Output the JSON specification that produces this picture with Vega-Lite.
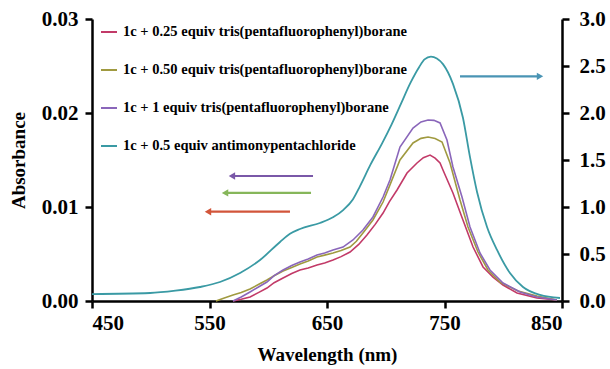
{
  "$schema": "https://vega.github.io/schema/vega-lite/v6.json",
  "width": 470,
  "height": 282,
  "autosize": {"type": "none"},
  "padding": {"left": 92, "top": 19, "right": 48, "bottom": 68},
  "background": "white",
  "config": {
    "view": {"stroke": null},
    "font": "Liberation Serif",
    "axis": {
      "grid": false,
      "domainColor": "black",
      "domainWidth": 2.5,
      "tickColor": "black",
      "tickWidth": 2.5,
      "tickSize": 7,
      "labelFont": "Liberation Serif",
      "labelFontWeight": "bold",
      "labelFontSize": 21,
      "labelColor": "black",
      "titleFont": "Liberation Serif",
      "titleFontWeight": "bold",
      "titleFontSize": 19,
      "titleColor": "black"
    },
    "legend": {
      "orient": "none",
      "legendX": 8,
      "legendY": 4,
      "padding": 0,
      "symbolType": "stroke",
      "symbolSize": 256,
      "symbolStrokeWidth": 2,
      "labelFont": "Liberation Serif",
      "labelFontWeight": "bold",
      "labelFontSize": 14.5,
      "labelColor": "black",
      "labelLimit": 0,
      "labelOffset": 5,
      "rowPadding": 22
    }
  },
  "datasets": {
    "borane": [
      {"s": "1c + 0.25 equiv tris(pentafluorophenyl)borane", "wl": 570.0, "abs": 0.0},
      {"s": "1c + 0.25 equiv tris(pentafluorophenyl)borane", "wl": 577.0, "abs": 0.00018},
      {"s": "1c + 0.25 equiv tris(pentafluorophenyl)borane", "wl": 584.5, "abs": 0.00043},
      {"s": "1c + 0.25 equiv tris(pentafluorophenyl)borane", "wl": 592.0, "abs": 0.00092},
      {"s": "1c + 0.25 equiv tris(pentafluorophenyl)borane", "wl": 598.9, "abs": 0.00138},
      {"s": "1c + 0.25 equiv tris(pentafluorophenyl)borane", "wl": 605.0, "abs": 0.00195},
      {"s": "1c + 0.25 equiv tris(pentafluorophenyl)borane", "wl": 612.6, "abs": 0.00245},
      {"s": "1c + 0.25 equiv tris(pentafluorophenyl)borane", "wl": 620.0, "abs": 0.00292},
      {"s": "1c + 0.25 equiv tris(pentafluorophenyl)borane", "wl": 627.0, "abs": 0.0033},
      {"s": "1c + 0.25 equiv tris(pentafluorophenyl)borane", "wl": 634.0, "abs": 0.00352},
      {"s": "1c + 0.25 equiv tris(pentafluorophenyl)borane", "wl": 641.5, "abs": 0.00383},
      {"s": "1c + 0.25 equiv tris(pentafluorophenyl)borane", "wl": 648.0, "abs": 0.00405},
      {"s": "1c + 0.25 equiv tris(pentafluorophenyl)borane", "wl": 655.1, "abs": 0.00436},
      {"s": "1c + 0.25 equiv tris(pentafluorophenyl)borane", "wl": 662.0, "abs": 0.00472},
      {"s": "1c + 0.25 equiv tris(pentafluorophenyl)borane", "wl": 669.6, "abs": 0.00521},
      {"s": "1c + 0.25 equiv tris(pentafluorophenyl)borane", "wl": 677.0, "abs": 0.00602},
      {"s": "1c + 0.25 equiv tris(pentafluorophenyl)borane", "wl": 684.0, "abs": 0.00702},
      {"s": "1c + 0.25 equiv tris(pentafluorophenyl)borane", "wl": 691.0, "abs": 0.00815},
      {"s": "1c + 0.25 equiv tris(pentafluorophenyl)borane", "wl": 697.7, "abs": 0.00936},
      {"s": "1c + 0.25 equiv tris(pentafluorophenyl)borane", "wl": 703.0, "abs": 0.01055},
      {"s": "1c + 0.25 equiv tris(pentafluorophenyl)borane", "wl": 709.6, "abs": 0.01181},
      {"s": "1c + 0.25 equiv tris(pentafluorophenyl)borane", "wl": 718.1, "abs": 0.01362},
      {"s": "1c + 0.25 equiv tris(pentafluorophenyl)borane", "wl": 726.6, "abs": 0.01468},
      {"s": "1c + 0.25 equiv tris(pentafluorophenyl)borane", "wl": 732.0, "abs": 0.01525},
      {"s": "1c + 0.25 equiv tris(pentafluorophenyl)borane", "wl": 737.7, "abs": 0.01553},
      {"s": "1c + 0.25 equiv tris(pentafluorophenyl)borane", "wl": 742.0, "abs": 0.0152},
      {"s": "1c + 0.25 equiv tris(pentafluorophenyl)borane", "wl": 746.2, "abs": 0.01468},
      {"s": "1c + 0.25 equiv tris(pentafluorophenyl)borane", "wl": 748.7, "abs": 0.01394},
      {"s": "1c + 0.25 equiv tris(pentafluorophenyl)borane", "wl": 757.2, "abs": 0.01149},
      {"s": "1c + 0.25 equiv tris(pentafluorophenyl)borane", "wl": 765.7, "abs": 0.00862},
      {"s": "1c + 0.25 equiv tris(pentafluorophenyl)borane", "wl": 774.3, "abs": 0.00574},
      {"s": "1c + 0.25 equiv tris(pentafluorophenyl)borane", "wl": 782.8, "abs": 0.00362},
      {"s": "1c + 0.25 equiv tris(pentafluorophenyl)borane", "wl": 791.3, "abs": 0.00255},
      {"s": "1c + 0.25 equiv tris(pentafluorophenyl)borane", "wl": 799.8, "abs": 0.0017},
      {"s": "1c + 0.25 equiv tris(pentafluorophenyl)borane", "wl": 811.7, "abs": 0.00085},
      {"s": "1c + 0.25 equiv tris(pentafluorophenyl)borane", "wl": 828.7, "abs": 0.00032},
      {"s": "1c + 0.25 equiv tris(pentafluorophenyl)borane", "wl": 845.7, "abs": 0.0001},
      {"s": "1c + 0.50 equiv tris(pentafluorophenyl)borane", "wl": 555.5, "abs": 0.0},
      {"s": "1c + 0.50 equiv tris(pentafluorophenyl)borane", "wl": 562.0, "abs": 0.0003},
      {"s": "1c + 0.50 equiv tris(pentafluorophenyl)borane", "wl": 570.0, "abs": 0.00064},
      {"s": "1c + 0.50 equiv tris(pentafluorophenyl)borane", "wl": 577.0, "abs": 0.0009},
      {"s": "1c + 0.50 equiv tris(pentafluorophenyl)borane", "wl": 584.5, "abs": 0.00128},
      {"s": "1c + 0.50 equiv tris(pentafluorophenyl)borane", "wl": 592.0, "abs": 0.00178},
      {"s": "1c + 0.50 equiv tris(pentafluorophenyl)borane", "wl": 598.9, "abs": 0.00223},
      {"s": "1c + 0.50 equiv tris(pentafluorophenyl)borane", "wl": 605.0, "abs": 0.00268},
      {"s": "1c + 0.50 equiv tris(pentafluorophenyl)borane", "wl": 612.6, "abs": 0.00319},
      {"s": "1c + 0.50 equiv tris(pentafluorophenyl)borane", "wl": 620.0, "abs": 0.00356},
      {"s": "1c + 0.50 equiv tris(pentafluorophenyl)borane", "wl": 627.0, "abs": 0.00394},
      {"s": "1c + 0.50 equiv tris(pentafluorophenyl)borane", "wl": 634.0, "abs": 0.00425},
      {"s": "1c + 0.50 equiv tris(pentafluorophenyl)borane", "wl": 641.5, "abs": 0.00468},
      {"s": "1c + 0.50 equiv tris(pentafluorophenyl)borane", "wl": 648.0, "abs": 0.00488},
      {"s": "1c + 0.50 equiv tris(pentafluorophenyl)borane", "wl": 655.1, "abs": 0.00511},
      {"s": "1c + 0.50 equiv tris(pentafluorophenyl)borane", "wl": 662.0, "abs": 0.00538},
      {"s": "1c + 0.50 equiv tris(pentafluorophenyl)borane", "wl": 669.6, "abs": 0.00574},
      {"s": "1c + 0.50 equiv tris(pentafluorophenyl)borane", "wl": 675.0, "abs": 0.00635},
      {"s": "1c + 0.50 equiv tris(pentafluorophenyl)borane", "wl": 680.6, "abs": 0.00723},
      {"s": "1c + 0.50 equiv tris(pentafluorophenyl)borane", "wl": 689.1, "abs": 0.00862},
      {"s": "1c + 0.50 equiv tris(pentafluorophenyl)borane", "wl": 697.7, "abs": 0.01053},
      {"s": "1c + 0.50 equiv tris(pentafluorophenyl)borane", "wl": 703.6, "abs": 0.01235},
      {"s": "1c + 0.50 equiv tris(pentafluorophenyl)borane", "wl": 712.1, "abs": 0.015},
      {"s": "1c + 0.50 equiv tris(pentafluorophenyl)borane", "wl": 723.2, "abs": 0.01681},
      {"s": "1c + 0.50 equiv tris(pentafluorophenyl)borane", "wl": 730.0, "abs": 0.0173},
      {"s": "1c + 0.50 equiv tris(pentafluorophenyl)borane", "wl": 736.0, "abs": 0.01745},
      {"s": "1c + 0.50 equiv tris(pentafluorophenyl)borane", "wl": 742.0, "abs": 0.01728},
      {"s": "1c + 0.50 equiv tris(pentafluorophenyl)borane", "wl": 747.9, "abs": 0.01691},
      {"s": "1c + 0.50 equiv tris(pentafluorophenyl)borane", "wl": 754.7, "abs": 0.01468},
      {"s": "1c + 0.50 equiv tris(pentafluorophenyl)borane", "wl": 763.2, "abs": 0.01074},
      {"s": "1c + 0.50 equiv tris(pentafluorophenyl)borane", "wl": 770.0, "abs": 0.00787},
      {"s": "1c + 0.50 equiv tris(pentafluorophenyl)borane", "wl": 778.5, "abs": 0.00521},
      {"s": "1c + 0.50 equiv tris(pentafluorophenyl)borane", "wl": 787.0, "abs": 0.0033},
      {"s": "1c + 0.50 equiv tris(pentafluorophenyl)borane", "wl": 797.2, "abs": 0.00202},
      {"s": "1c + 0.50 equiv tris(pentafluorophenyl)borane", "wl": 812.6, "abs": 0.00106},
      {"s": "1c + 0.50 equiv tris(pentafluorophenyl)borane", "wl": 828.7, "abs": 0.00053},
      {"s": "1c + 0.50 equiv tris(pentafluorophenyl)borane", "wl": 845.7, "abs": 0.0001},
      {"s": "1c + 1 equiv tris(pentafluorophenyl)borane", "wl": 570.0, "abs": 0.0},
      {"s": "1c + 1 equiv tris(pentafluorophenyl)borane", "wl": 577.0, "abs": 0.00042},
      {"s": "1c + 1 equiv tris(pentafluorophenyl)borane", "wl": 584.5, "abs": 0.00096},
      {"s": "1c + 1 equiv tris(pentafluorophenyl)borane", "wl": 592.0, "abs": 0.00152},
      {"s": "1c + 1 equiv tris(pentafluorophenyl)borane", "wl": 598.9, "abs": 0.00202},
      {"s": "1c + 1 equiv tris(pentafluorophenyl)borane", "wl": 605.0, "abs": 0.0027},
      {"s": "1c + 1 equiv tris(pentafluorophenyl)borane", "wl": 612.6, "abs": 0.0033},
      {"s": "1c + 1 equiv tris(pentafluorophenyl)borane", "wl": 620.0, "abs": 0.00378},
      {"s": "1c + 1 equiv tris(pentafluorophenyl)borane", "wl": 627.0, "abs": 0.00415},
      {"s": "1c + 1 equiv tris(pentafluorophenyl)borane", "wl": 634.0, "abs": 0.00448},
      {"s": "1c + 1 equiv tris(pentafluorophenyl)borane", "wl": 641.5, "abs": 0.00489},
      {"s": "1c + 1 equiv tris(pentafluorophenyl)borane", "wl": 648.0, "abs": 0.0051},
      {"s": "1c + 1 equiv tris(pentafluorophenyl)borane", "wl": 655.1, "abs": 0.00543},
      {"s": "1c + 1 equiv tris(pentafluorophenyl)borane", "wl": 663.6, "abs": 0.00574},
      {"s": "1c + 1 equiv tris(pentafluorophenyl)borane", "wl": 672.1, "abs": 0.00649},
      {"s": "1c + 1 equiv tris(pentafluorophenyl)borane", "wl": 680.6, "abs": 0.00755},
      {"s": "1c + 1 equiv tris(pentafluorophenyl)borane", "wl": 689.1, "abs": 0.00894},
      {"s": "1c + 1 equiv tris(pentafluorophenyl)borane", "wl": 697.7, "abs": 0.01106},
      {"s": "1c + 1 equiv tris(pentafluorophenyl)borane", "wl": 703.6, "abs": 0.01287},
      {"s": "1c + 1 equiv tris(pentafluorophenyl)borane", "wl": 712.1, "abs": 0.01638},
      {"s": "1c + 1 equiv tris(pentafluorophenyl)borane", "wl": 723.2, "abs": 0.0184},
      {"s": "1c + 1 equiv tris(pentafluorophenyl)borane", "wl": 730.0, "abs": 0.01905},
      {"s": "1c + 1 equiv tris(pentafluorophenyl)borane", "wl": 736.0, "abs": 0.01926},
      {"s": "1c + 1 equiv tris(pentafluorophenyl)borane", "wl": 741.0, "abs": 0.01922},
      {"s": "1c + 1 equiv tris(pentafluorophenyl)borane", "wl": 746.2, "abs": 0.01894},
      {"s": "1c + 1 equiv tris(pentafluorophenyl)borane", "wl": 752.1, "abs": 0.01713},
      {"s": "1c + 1 equiv tris(pentafluorophenyl)borane", "wl": 757.2, "abs": 0.01426},
      {"s": "1c + 1 equiv tris(pentafluorophenyl)borane", "wl": 764.9, "abs": 0.01106},
      {"s": "1c + 1 equiv tris(pentafluorophenyl)borane", "wl": 771.7, "abs": 0.00787},
      {"s": "1c + 1 equiv tris(pentafluorophenyl)borane", "wl": 780.2, "abs": 0.00511},
      {"s": "1c + 1 equiv tris(pentafluorophenyl)borane", "wl": 788.7, "abs": 0.0033},
      {"s": "1c + 1 equiv tris(pentafluorophenyl)borane", "wl": 799.8, "abs": 0.00191},
      {"s": "1c + 1 equiv tris(pentafluorophenyl)borane", "wl": 814.3, "abs": 0.00096},
      {"s": "1c + 1 equiv tris(pentafluorophenyl)borane", "wl": 828.7, "abs": 0.00043},
      {"s": "1c + 1 equiv tris(pentafluorophenyl)borane", "wl": 845.7, "abs": 0.0001}
    ],
    "sbcl5": [
      {"s": "1c + 0.5 equiv antimonypentachloride", "wl": 450.0, "val": 0.074},
      {"s": "1c + 0.5 equiv antimonypentachloride", "wl": 499.4, "val": 0.085},
      {"s": "1c + 0.5 equiv antimonypentachloride", "wl": 521.0, "val": 0.11},
      {"s": "1c + 0.5 equiv antimonypentachloride", "wl": 541.9, "val": 0.149},
      {"s": "1c + 0.5 equiv antimonypentachloride", "wl": 558.9, "val": 0.202},
      {"s": "1c + 0.5 equiv antimonypentachloride", "wl": 576.0, "val": 0.298},
      {"s": "1c + 0.5 equiv antimonypentachloride", "wl": 593.0, "val": 0.436},
      {"s": "1c + 0.5 equiv antimonypentachloride", "wl": 610.0, "val": 0.628},
      {"s": "1c + 0.5 equiv antimonypentachloride", "wl": 618.5, "val": 0.715},
      {"s": "1c + 0.5 equiv antimonypentachloride", "wl": 627.0, "val": 0.766},
      {"s": "1c + 0.5 equiv antimonypentachloride", "wl": 644.0, "val": 0.83},
      {"s": "1c + 0.5 equiv antimonypentachloride", "wl": 655.1, "val": 0.89},
      {"s": "1c + 0.5 equiv antimonypentachloride", "wl": 664.0, "val": 0.97},
      {"s": "1c + 0.5 equiv antimonypentachloride", "wl": 672.0, "val": 1.08},
      {"s": "1c + 0.5 equiv antimonypentachloride", "wl": 678.0, "val": 1.22},
      {"s": "1c + 0.5 equiv antimonypentachloride", "wl": 687.0, "val": 1.45},
      {"s": "1c + 0.5 equiv antimonypentachloride", "wl": 697.0, "val": 1.68},
      {"s": "1c + 0.5 equiv antimonypentachloride", "wl": 705.0, "val": 1.88},
      {"s": "1c + 0.5 equiv antimonypentachloride", "wl": 713.0, "val": 2.1},
      {"s": "1c + 0.5 equiv antimonypentachloride", "wl": 721.0, "val": 2.32},
      {"s": "1c + 0.5 equiv antimonypentachloride", "wl": 728.5, "val": 2.49},
      {"s": "1c + 0.5 equiv antimonypentachloride", "wl": 733.0, "val": 2.57},
      {"s": "1c + 0.5 equiv antimonypentachloride", "wl": 738.5, "val": 2.6},
      {"s": "1c + 0.5 equiv antimonypentachloride", "wl": 743.5, "val": 2.58},
      {"s": "1c + 0.5 equiv antimonypentachloride", "wl": 748.7, "val": 2.52},
      {"s": "1c + 0.5 equiv antimonypentachloride", "wl": 757.2, "val": 2.31},
      {"s": "1c + 0.5 equiv antimonypentachloride", "wl": 765.7, "val": 1.95},
      {"s": "1c + 0.5 equiv antimonypentachloride", "wl": 771.7, "val": 1.53},
      {"s": "1c + 0.5 equiv antimonypentachloride", "wl": 777.7, "val": 1.16},
      {"s": "1c + 0.5 equiv antimonypentachloride", "wl": 786.2, "val": 0.787},
      {"s": "1c + 0.5 equiv antimonypentachloride", "wl": 794.7, "val": 0.543},
      {"s": "1c + 0.5 equiv antimonypentachloride", "wl": 805.7, "val": 0.298},
      {"s": "1c + 0.5 equiv antimonypentachloride", "wl": 816.8, "val": 0.149},
      {"s": "1c + 0.5 equiv antimonypentachloride", "wl": 831.3, "val": 0.064},
      {"s": "1c + 0.5 equiv antimonypentachloride", "wl": 848.3, "val": 0.032}
    ],
    "arrows": [
      {"refers": "1 equiv", "x_tail": 638.1, "x_head": 569.1, "abs": 0.0133, "dir": "left"},
      {"refers": "0.50 equiv", "x_tail": 636.4, "x_head": 563.2, "abs": 0.0115, "dir": "left"},
      {"refers": "0.25 equiv", "x_tail": 618.5, "x_head": 548.7, "abs": 0.0095, "dir": "left"},
      {"refers": "SbCl5", "x_tail": 763.2, "x_head": 831.3, "abs": 0.0239, "dir": "right"}
    ]
  },
  "layer": [
    {
      "layer": [
        {
          "data": {"name": "borane"},
          "mark": {"type": "line", "strokeWidth": 1.6},
          "encoding": {
            "x": {"field": "wl", "type": "quantitative", "title": "Wavelength (nm)",
                  "scale": {"domain": [450, 850], "nice": false, "zero": false},
                  "axis": {"values": [450, 550, 650, 750, 850], "labelPadding": 4, "titlePadding": 12}},
            "y": {"field": "abs", "type": "quantitative", "title": "Absorbance",
                  "scale": {"domain": [0, 0.03], "nice": false},
                  "axis": {"orient": "left", "values": [0, 0.01, 0.02, 0.03], "format": ".2f", "labelPadding": 7, "titlePadding": 13}},
            "color": {"field": "s", "type": "nominal", "title": null,
                      "scale": {"domain": [
                        "1c + 0.25 equiv tris(pentafluorophenyl)borane",
                        "1c + 0.50 equiv tris(pentafluorophenyl)borane",
                        "1c + 1 equiv tris(pentafluorophenyl)borane",
                        "1c + 0.5 equiv antimonypentachloride"],
                        "range": ["#c23a68", "#a09a40", "#8a66ba", "#3a9aa4"]}}
          }
        },
        {
          "data": {"name": "arrows"},
          "mark": {"type": "rule", "strokeWidth": 2.2},
          "encoding": {
            "x": {"field": "x_tail", "type": "quantitative", "title": "Wavelength (nm)", "scale": {"domain": [450, 850], "nice": false, "zero": false}},
            "x2": {"field": "x_head"},
            "y": {"field": "abs", "type": "quantitative", "title": "Absorbance", "scale": {"domain": [0, 0.03], "nice": false}},
            "stroke": {"field": "refers", "type": "nominal", "legend": null,
                       "scale": {"domain": ["1 equiv", "0.50 equiv", "0.25 equiv", "SbCl5"], "range": ["#7a58a8", "#86b65a", "#d2553a", "#4a94b4"]}}
          }
        },
        {
          "data": {"name": "arrows"},
          "mark": {"type": "point", "filled": true, "size": 55, "opacity": 1, "strokeWidth": 0},
          "encoding": {
            "x": {"field": "x_head", "type": "quantitative", "title": "Wavelength (nm)", "scale": {"domain": [450, 850], "nice": false, "zero": false}},
            "y": {"field": "abs", "type": "quantitative", "title": "Absorbance", "scale": {"domain": [0, 0.03], "nice": false}},
            "shape": {"field": "dir", "type": "nominal", "legend": null,
                      "scale": {"domain": ["left", "right"], "range": ["triangle-left", "triangle-right"]}},
            "fill": {"field": "refers", "type": "nominal", "legend": null,
                     "scale": {"domain": ["1 equiv", "0.50 equiv", "0.25 equiv", "SbCl5"], "range": ["#7a58a8", "#86b65a", "#d2553a", "#4a94b4"]}}
          }
        }
      ]
    },
    {
      "data": {"name": "sbcl5"},
      "mark": {"type": "line", "strokeWidth": 1.8, "interpolate": "monotone"},
      "encoding": {
        "x": {"field": "wl", "type": "quantitative", "title": "Wavelength (nm)", "scale": {"domain": [450, 850], "nice": false, "zero": false}},
        "y": {"field": "val", "type": "quantitative",
              "scale": {"domain": [0, 3], "nice": false},
              "axis": {"orient": "right", "title": null, "values": [0, 0.5, 1, 1.5, 2, 2.5, 3], "format": ".1f", "labelPadding": 10}},
        "color": {"field": "s", "type": "nominal", "title": null}
      }
    }
  ],
  "resolve": {"scale": {"y": "independent"}}
}
